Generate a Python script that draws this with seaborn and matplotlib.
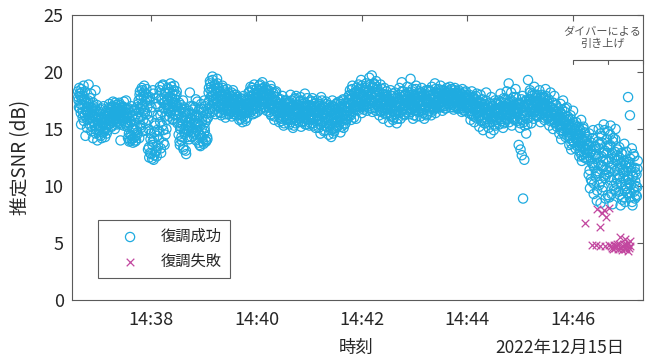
import numpy as np
import pandas as pd
import matplotlib
matplotlib.use("Agg")
import matplotlib.pyplot as plt
import matplotlib.dates as mdates
import seaborn as sns

# ---------------- data ----------------
date_str = "2022-12-15"
ok_start = "14:36:36.8"      # first successful demodulation
ok_step_s = 0.3558           # sampling interval (s)

# even samples
snr_ok_rows = [
    [18.3, 17.5, 18.6, 16.8, 17.9, 15.4, 18.2, 17.1, 16.5, 18.8, 17.6, 16.2, 14.4, 17.3, 16.9, 15.8],
    [16.5, 18.9, 17.2, 15.9, 16.4, 18.1, 15.2, 16.8, 14.2, 17.0, 15.6, 16.1, 18.4, 15.0, 16.6, 14.0],
    [15.3, 16.2, 14.5, 15.8, 16.7, 15.1, 14.2, 16.0, 15.5, 17.0, 14.8, 15.9, 16.4, 15.2, 14.6, 16.3],
    [16.1, 15.4, 17.2, 16.5, 15.7, 16.9, 15.2, 16.3, 17.4, 15.9, 16.6, 15.0, 16.8, 17.1, 15.6, 16.2],
    [16.4, 15.5, 17.3, 16.0, 14.0, 16.7, 15.8, 17.0, 16.2, 15.3, 16.9, 16.5, 15.9, 17.5, 16.1, 15.6],
    [14.2, 16.8, 13.9, 15.5, 14.5, 17.0, 14.1, 16.2, 13.8, 15.0, 16.6, 14.3, 15.8, 14.0, 16.9, 14.7],
    [16.0, 17.5, 14.2, 18.3, 16.8, 15.1, 18.6, 17.2, 14.8, 17.9, 18.8, 16.4, 15.5, 18.1, 17.6, 16.9],
    [13.2, 15.0, 12.5, 17.8, 14.1, 12.8, 16.5, 13.6, 18.4, 12.3, 14.7, 15.5, 13.0, 17.2, 12.6, 14.4],
    [13.5, 17.9, 14.8, 18.7, 16.2, 12.9, 17.5, 15.3, 18.9, 13.8, 16.8, 18.2, 14.5, 17.1, 15.8, 18.6],
    [17.2, 18.5, 16.1, 17.8, 19.0, 16.6, 17.4, 18.1, 15.8, 16.9, 18.8, 17.6, 16.3, 17.0, 18.3, 15.5],
    [16.2, 14.5, 17.3, 13.6, 15.2, 16.8, 14.0, 15.7, 17.5, 13.2, 14.8, 16.5, 15.0, 12.8, 16.0, 14.3],
    [15.3, 16.6, 14.1, 18.2, 15.9, 14.7, 16.3, 15.1, 17.0, 14.4, 15.8, 16.9, 15.5, 14.0, 16.2, 17.4],
    [15.5, 13.8, 16.7, 14.5, 13.5, 17.2, 15.0, 14.2, 16.1, 13.7, 17.5, 14.8, 15.6, 13.9, 16.4, 14.1],
    [16.0, 18.2, 17.5, 19.2, 16.8, 18.7, 17.9, 19.6, 16.5, 18.4, 17.2, 18.9, 16.3, 17.7, 18.5, 19.0],
    [17.4, 18.6, 16.5, 17.9, 18.2, 16.2, 17.1, 18.8, 17.6, 16.8, 18.4, 17.3, 16.0, 18.0, 17.7, 16.6],
    [17.0, 16.3, 18.1, 17.5, 16.7, 17.9, 16.1, 17.3, 18.4, 16.5, 17.7, 16.9, 17.2, 18.0, 16.4, 17.6],
    [16.8, 17.4, 15.8, 16.5, 17.7, 16.2, 17.1, 15.6, 16.9, 17.9, 16.4, 17.2, 15.9, 16.7, 17.5, 16.0],
    [17.3, 18.2, 16.6, 17.8, 18.7, 16.9, 17.5, 18.4, 16.3, 17.1, 18.9, 17.6, 16.8, 18.0, 17.4, 16.5],
    [18.1, 17.4, 18.8, 16.7, 17.9, 18.5, 17.2, 19.1, 18.3, 16.9, 17.6, 18.7, 17.3, 18.0, 16.6, 18.4],
    [17.6, 18.4, 16.5, 17.1, 18.8, 16.2, 17.8, 17.3, 16.8, 18.1, 15.8, 17.5, 16.6, 18.3, 17.0, 16.4],
    [16.9, 17.6, 15.6, 16.4, 17.2, 15.9, 16.8, 17.9, 16.1, 15.3, 17.0, 16.6, 17.5, 15.8, 16.3, 17.3],
    [16.5, 17.3, 15.4, 16.9, 18.0, 15.8, 16.2, 17.1, 15.1, 16.7, 17.6, 16.0, 15.5, 17.9, 16.4, 16.8],
    [16.7, 15.6, 17.4, 16.1, 17.8, 15.2, 16.9, 16.4, 17.2, 15.7, 16.3, 18.1, 16.0, 17.0, 15.4, 16.6],
    [16.4, 17.1, 15.3, 16.8, 17.5, 15.9, 16.2, 17.7, 15.5, 16.6, 17.0, 16.0, 15.1, 17.3, 16.5, 15.8],
    [16.2, 15.1, 17.2, 16.6, 14.6, 17.8, 15.7, 16.4, 17.0, 15.3, 16.9, 14.9, 16.1, 17.4, 15.5, 16.7],
    [16.0, 14.5, 17.1, 15.4, 16.6, 14.3, 15.8, 17.5, 15.0, 16.3, 14.8, 16.9, 15.6, 17.2, 15.2, 16.4],
    [16.5, 15.3, 17.4, 16.0, 14.7, 17.0, 15.7, 16.8, 17.6, 15.1, 16.2, 16.9, 15.5, 17.3, 16.1, 15.9],
    [16.8, 17.9, 16.2, 18.4, 17.1, 15.8, 17.6, 18.8, 16.5, 17.3, 18.1, 16.9, 17.7, 15.9, 18.3, 17.0],
    [17.6, 18.9, 16.7, 18.2, 17.3, 19.3, 16.4, 17.9, 18.6, 17.1, 16.9, 18.4, 17.5, 19.0, 16.6, 18.0],
    [18.3, 17.2, 19.5, 16.8, 18.0, 17.6, 19.7, 16.5, 18.7, 17.4, 18.9, 16.9, 17.9, 19.2, 17.1, 18.5],
    [17.0, 18.3, 16.2, 17.7, 18.9, 16.6, 17.3, 18.1, 15.9, 17.5, 18.6, 16.8, 17.1, 16.4, 18.0, 17.4],
    [16.7, 17.6, 15.6, 17.2, 18.4, 16.1, 16.9, 17.9, 15.8, 17.4, 16.5, 18.2, 16.3, 17.0, 15.5, 17.7],
    [17.3, 16.4, 18.6, 17.0, 15.9, 17.8, 19.1, 16.7, 17.5, 18.3, 16.2, 17.1, 18.0, 16.5, 17.6, 18.7],
    [17.1, 18.2, 16.3, 17.6, 19.4, 16.8, 17.4, 18.5, 15.9, 17.0, 18.0, 16.6, 17.7, 18.8, 16.1, 17.3],
    [17.4, 16.5, 18.3, 17.0, 16.1, 17.8, 18.6, 16.7, 17.2, 18.1, 15.9, 17.6, 16.9, 18.4, 17.3, 16.3],
    [17.5, 18.4, 16.6, 17.9, 17.2, 16.2, 18.7, 17.0, 18.1, 16.8, 17.6, 19.0, 16.4, 17.3, 18.2, 16.9],
    [17.8, 18.5, 16.9, 17.4, 18.8, 17.1, 18.2, 16.6, 17.6, 18.4, 17.0, 18.0, 16.8, 17.5, 18.6, 17.3],
    [17.9, 18.3, 17.2, 18.7, 16.9, 17.6, 18.5, 17.3, 18.1, 16.7, 17.8, 18.6, 17.0, 18.2, 17.5, 16.8],
    [17.6, 18.4, 16.8, 17.9, 18.1, 17.2, 16.5, 18.5, 17.4, 17.0, 18.2, 16.6, 17.7, 18.0, 16.9, 17.3],
    [17.2, 16.4, 18.0, 17.5, 15.8, 16.9, 18.3, 16.2, 17.3, 17.8, 15.6, 16.7, 17.6, 16.0, 18.1, 17.0],
    [16.5, 17.4, 15.2, 16.8, 18.0, 15.7, 16.2, 17.6, 14.9, 16.9, 17.2, 15.5, 16.4, 18.2, 15.9, 16.7],
    [16.3, 15.1, 17.3, 16.7, 14.6, 17.8, 15.6, 16.1, 17.0, 14.9, 16.5, 17.5, 15.3, 16.8, 15.8, 17.2],
    [16.6, 17.5, 15.4, 16.2, 18.1, 15.9, 17.0, 16.4, 15.1, 17.7, 16.8, 15.6, 17.3, 16.0, 18.3, 16.5],
    [16.9, 19.0, 15.6, 17.4, 16.3, 18.2, 15.3, 17.0, 16.6, 17.8, 15.9, 16.4, 18.5, 17.2, 15.7, 16.8],
    [16.5, 13.6, 17.3, 15.1, 13.2, 16.8, 12.7, 17.9, 8.9, 15.6, 12.3, 16.2, 17.5, 14.6, 16.9, 15.4],
    [19.3, 17.2, 16.0, 18.4, 17.6, 15.5, 16.8, 18.1, 17.0, 15.9, 18.7, 16.5, 17.4, 16.2, 18.0, 17.1],
    [17.3, 16.1, 18.4, 17.7, 15.6, 16.9, 18.0, 17.1, 16.4, 17.8, 15.8, 17.2, 18.5, 16.6, 17.5, 16.0],
    [16.4, 17.6, 15.3, 16.9, 18.2, 15.8, 16.2, 17.3, 15.0, 16.7, 17.9, 15.5, 16.5, 17.1, 15.2, 16.0],
    [15.9, 16.8, 14.6, 15.4, 17.2, 14.1, 16.3, 15.1, 17.5, 14.8, 15.7, 16.5, 14.3, 15.3, 16.9, 15.0],
    [14.9, 15.8, 13.6, 14.4, 16.2, 13.2, 15.3, 14.0, 16.6, 13.8, 15.0, 14.6, 13.3, 15.6, 14.2, 15.2],
    [13.9, 15.2, 12.6, 14.5, 13.1, 15.8, 12.2, 14.0, 13.5, 15.0, 12.8, 14.7, 13.3, 12.4, 14.3, 13.7],
    [13.2, 11.0, 14.6, 9.8, 12.5, 13.8, 10.4, 12.0, 14.9, 9.3, 11.6, 13.5, 10.8, 12.8, 8.7, 11.3],
    [12.6, 15.0, 10.1, 13.7, 8.5, 11.8, 14.4, 9.6, 12.2, 15.4, 10.9, 13.1, 8.9, 11.4, 14.1, 12.9],
    [14.8, 11.2, 9.0, 13.6, 15.3, 10.5, 12.4, 8.4, 14.2, 11.9, 9.7, 13.0, 15.0, 10.2, 12.7, 11.5],
    [12.3, 9.5, 13.4, 10.8, 8.3, 11.9, 10.1, 12.8, 9.0, 11.2, 13.7, 8.6, 10.5, 12.0, 9.8, 11.6],
    [17.8, 12.1, 10.3, 16.2, 9.4, 11.7, 13.3, 8.3, 10.9, 9.8, 12.6, 8.9, 11.2, 10.0, 9.1, 11.5],
]

# odd samples
snr_ok_rows_odd = [
    [17.8, 16.9, 18.1, 17.2, 16.4, 18.5, 17.6, 16.0, 17.9, 15.7, 17.0, 18.3, 16.6, 17.4, 15.1, 16.3],
    [17.5, 16.0, 15.4, 17.7, 16.9, 14.8, 16.2, 15.7, 17.3, 16.6, 15.3, 16.8, 14.6, 15.9, 17.1, 15.5],
    [15.7, 14.9, 16.5, 15.2, 14.4, 15.9, 16.8, 15.4, 14.7, 16.1, 15.6, 14.3, 15.0, 16.6, 15.8, 14.9],
    [16.4, 15.8, 16.9, 15.5, 16.7, 16.0, 15.3, 17.0, 16.2, 15.7, 16.5, 17.3, 15.9, 16.3, 15.4, 16.8],
    [16.6, 15.9, 16.2, 17.1, 15.4, 16.5, 16.9, 15.7, 16.0, 17.4, 16.3, 15.5, 16.8, 16.1, 15.2, 16.7],
    [15.3, 14.6, 16.4, 14.0, 15.7, 14.4, 16.1, 15.0, 14.2, 16.7, 15.4, 13.9, 14.9, 16.3, 14.5, 15.9],
    [17.2, 16.5, 18.0, 15.3, 17.7, 16.1, 18.4, 17.0, 15.8, 18.2, 16.7, 17.4, 14.9, 18.5, 16.3, 17.8],
    [15.8, 13.4, 17.5, 12.9, 14.6, 16.9, 12.4, 13.9, 18.1, 14.2, 12.7, 15.3, 17.7, 13.1, 14.9, 16.2],
    [17.0, 14.1, 18.4, 15.6, 13.3, 17.7, 16.5, 18.8, 14.9, 17.3, 13.6, 16.1, 18.1, 15.0, 17.6, 16.8],
    [17.5, 16.8, 18.2, 17.0, 16.4, 18.7, 17.7, 15.9, 17.3, 18.4, 16.6, 17.9, 16.2, 18.0, 17.1, 16.9],
    [15.6, 16.6, 13.9, 15.0, 17.1, 14.3, 16.0, 15.4, 13.4, 16.9, 14.6, 15.8, 13.1, 16.3, 14.9, 15.2],
    [15.6, 14.8, 16.4, 15.2, 17.0, 14.3, 15.9, 16.7, 15.0, 14.6, 16.1, 15.5, 17.6, 14.9, 16.0, 15.4],
    [14.8, 16.2, 13.6, 15.3, 16.8, 14.4, 15.7, 13.9, 16.5, 14.6, 15.1, 17.0, 14.0, 15.8, 14.3, 16.0],
    [17.3, 18.6, 16.4, 19.0, 17.8, 18.3, 16.9, 19.3, 18.0, 17.4, 18.8, 16.7, 18.1, 17.6, 19.4, 17.0],
    [17.8, 16.9, 18.3, 17.2, 16.4, 18.0, 17.5, 18.6, 16.7, 17.9, 17.0, 18.2, 16.3, 17.4, 18.5, 17.1],
    [17.4, 16.8, 17.9, 16.5, 17.1, 18.2, 16.9, 17.6, 16.3, 17.3, 18.0, 16.7, 17.5, 16.2, 17.8, 17.0],
    [17.0, 16.3, 17.3, 16.7, 15.9, 17.6, 16.5, 17.1, 16.1, 16.8, 17.5, 16.4, 15.7, 17.2, 16.6, 16.9],
    [17.6, 16.9, 18.3, 17.2, 16.5, 17.9, 18.6, 17.0, 16.7, 18.1, 17.4, 16.4, 17.8, 18.5, 17.1, 17.7],
    [17.8, 18.4, 17.0, 18.9, 17.5, 16.8, 18.2, 17.7, 18.6, 17.2, 18.0, 16.9, 18.5, 17.4, 18.1, 17.6],
    [17.4, 16.9, 18.0, 17.2, 16.3, 18.5, 17.6, 16.7, 17.9, 17.0, 16.1, 18.2, 17.5, 16.5, 17.8, 16.8],
    [16.6, 17.2, 16.0, 16.9, 17.6, 15.7, 16.4, 17.0, 16.7, 15.5, 17.3, 16.2, 16.8, 17.5, 15.9, 16.5],
    [16.7, 16.1, 17.2, 16.4, 15.6, 17.5, 16.9, 16.0, 17.0, 15.3, 16.6, 17.7, 16.3, 15.8, 17.1, 16.5],
    [16.4, 17.1, 15.9, 16.8, 17.5, 16.2, 15.6, 17.0, 16.6, 16.0, 17.3, 15.4, 16.9, 16.3, 17.7, 16.5],
    [16.6, 15.8, 17.0, 16.2, 15.5, 17.4, 16.8, 16.0, 15.3, 16.9, 17.2, 16.4, 15.7, 16.7, 17.5, 16.1],
    [16.5, 15.8, 17.0, 15.4, 16.8, 16.1, 17.5, 15.6, 16.3, 14.8, 16.9, 15.9, 17.2, 16.4, 15.2, 16.6],
    [15.8, 16.5, 15.2, 16.9, 14.9, 16.2, 15.5, 17.0, 14.6, 16.4, 15.9, 16.7, 15.1, 16.0, 17.3, 15.6],
    [16.1, 16.8, 15.6, 17.2, 16.4, 15.2, 16.9, 15.9, 17.5, 16.3, 15.4, 16.6, 17.0, 15.8, 16.5, 17.3],
    [17.3, 16.6, 18.0, 17.6, 16.2, 17.9, 18.5, 16.9, 17.4, 16.0, 18.2, 17.1, 16.7, 18.6, 17.5, 17.0],
    [17.8, 17.2, 18.5, 16.9, 18.1, 17.5, 18.8, 17.0, 17.9, 16.7, 18.3, 17.4, 18.6, 17.1, 17.7, 18.2],
    [17.8, 18.4, 17.0, 18.9, 17.5, 18.1, 16.8, 18.6, 17.3, 19.0, 17.7, 18.2, 16.6, 17.9, 18.7, 17.2],
    [17.5, 16.9, 18.2, 17.2, 16.5, 17.8, 18.5, 16.7, 17.6, 17.1, 18.0, 16.3, 17.4, 18.3, 16.8, 17.7],
    [17.0, 16.4, 17.5, 16.8, 17.9, 16.2, 17.3, 16.6, 18.1, 16.0, 17.1, 17.7, 16.5, 16.9, 17.4, 15.9],
    [17.4, 16.9, 18.0, 17.2, 16.5, 17.6, 18.3, 16.8, 17.0, 17.9, 16.3, 17.5, 18.1, 16.7, 17.3, 17.8],
    [17.4, 16.8, 18.0, 17.1, 16.5, 17.7, 18.3, 16.9, 17.5, 16.2, 17.9, 17.0, 18.5, 16.6, 17.3, 17.8],
    [17.2, 17.8, 16.8, 17.5, 18.2, 16.6, 17.1, 17.9, 16.4, 17.4, 18.0, 16.9, 17.6, 16.2, 17.3, 18.4],
    [17.3, 17.9, 16.8, 17.6, 18.3, 16.5, 17.2, 18.0, 17.0, 16.7, 17.8, 18.5, 17.1, 16.9, 17.5, 18.1],
    [17.6, 18.1, 17.2, 17.9, 16.9, 18.4, 17.4, 18.0, 17.0, 17.7, 18.3, 16.8, 17.5, 18.2, 17.3, 17.8],
    [17.7, 18.2, 17.4, 17.9, 18.5, 17.1, 17.6, 18.0, 16.9, 17.8, 18.4, 17.3, 17.5, 18.1, 17.0, 17.7],
    [17.4, 17.9, 17.0, 18.2, 17.6, 16.8, 17.3, 18.0, 17.5, 16.6, 17.8, 17.2, 18.3, 17.1, 16.9, 17.7],
    [16.9, 17.5, 16.6, 17.8, 17.1, 16.3, 17.4, 16.8, 17.7, 16.1, 17.2, 16.7, 17.9, 16.5, 17.0, 17.3],
    [16.4, 17.0, 16.1, 16.8, 17.3, 15.8, 16.6, 17.1, 16.0, 16.7, 15.5, 16.9, 17.5, 16.3, 15.9, 16.5],
    [16.2, 16.9, 15.6, 16.5, 17.2, 15.9, 16.4, 16.0, 17.0, 15.4, 16.6, 16.1, 17.3, 15.8, 16.7, 16.3],
    [16.5, 17.1, 16.0, 16.8, 17.4, 15.7, 16.3, 17.0, 16.6, 15.5, 16.9, 17.6, 16.2, 16.7, 15.9, 17.2],
    [16.8, 17.3, 16.2, 17.6, 16.5, 17.0, 16.0, 17.4, 16.7, 15.8, 17.1, 16.4, 17.8, 16.9, 16.3, 17.2],
    [16.7, 17.2, 16.0, 15.5, 16.9, 17.6, 15.8, 16.4, 17.0, 16.2, 15.3, 16.8, 17.4, 16.5, 15.9, 17.1],
    [17.0, 17.6, 16.5, 18.2, 17.3, 16.8, 17.9, 16.3, 17.5, 16.9, 18.0, 17.2, 16.6, 17.7, 16.1, 17.4],
    [17.1, 16.6, 17.5, 16.9, 17.8, 16.3, 17.2, 16.7, 17.6, 16.0, 17.3, 16.8, 17.9, 16.4, 17.0, 16.5],
    [16.6, 16.1, 17.0, 15.7, 16.4, 16.9, 15.9, 16.7, 17.3, 16.2, 15.6, 16.5, 17.1, 16.0, 16.3, 15.8],
    [15.7, 16.2, 15.2, 16.5, 14.9, 15.9, 16.7, 15.4, 14.6, 16.0, 15.5, 16.8, 15.1, 15.8, 14.4, 16.1],
    [14.7, 15.4, 14.2, 15.9, 14.9, 13.7, 15.1, 14.4, 15.6, 13.9, 14.8, 15.3, 14.1, 15.0, 13.5, 14.6],
    [13.6, 14.4, 13.0, 14.9, 13.8, 12.7, 14.2, 13.4, 15.2, 12.5, 13.9, 14.6, 13.2, 14.1, 12.9, 13.5],
    [12.3, 13.6, 11.4, 12.9, 10.6, 13.1, 12.0, 14.2, 11.8, 10.2, 12.7, 13.4, 11.1, 12.4, 9.6, 13.9],
    [12.0, 13.3, 11.1, 14.6, 10.4, 12.6, 13.8, 9.9, 11.7, 12.9, 14.9, 10.7, 12.3, 11.0, 13.5, 9.2],
    [12.1, 13.4, 10.8, 14.5, 11.6, 9.3, 12.9, 13.9, 10.0, 12.5, 11.3, 14.1, 9.6, 12.2, 10.6, 13.2],
    [11.0, 12.5, 9.2, 11.6, 10.3, 12.9, 8.8, 11.4, 10.7, 12.2, 9.6, 11.8, 10.0, 13.0, 9.4, 10.9],
    [10.6, 11.9, 9.0, 12.4, 10.1, 11.3, 8.6, 10.8, 12.8, 9.5, 11.6, 10.4, 9.2, 11.0, 9.9, 12.2],
]

fail_time = ["14:46:13.7", "14:46:30.7", "14:46:27.3", "14:46:33.0", "14:46:37.6",
             "14:46:41.0", "14:46:35.3", "14:46:21.6", "14:46:26.2", "14:46:30.7",
             "14:46:36.4", "14:46:41.0", "14:46:44.4", "14:46:46.7", "14:46:48.9",
             "14:46:51.2", "14:46:52.3", "14:46:53.5", "14:46:54.6", "14:46:55.8",
             "14:46:56.9", "14:46:58.0", "14:46:59.2", "14:46:59.2", "14:47:00.3",
             "14:47:01.5", "14:47:02.6", "14:47:02.6", "14:47:03.7", "14:47:04.9",
             "14:47:04.9", "14:46:50.1", "14:46:43.2", "14:46:45.5", "14:46:47.8"]
fail_snr = [6.75, 6.4, 8.0, 7.6, 7.3,
            8.1, 7.9, 4.8, 4.8, 4.7,
            4.75, 4.8, 4.6, 4.8, 4.7,
            4.5, 4.9, 5.5, 4.6, 4.4,
            4.7, 4.9, 5.35, 4.5, 4.6,
            4.8, 4.3, 5.0, 4.6, 4.75,
            5.2, 4.9, 4.7, 4.5, 4.6]

x_range = ("14:36:30", "14:47:20")
x_tick_labels = ["14:38", "14:40", "14:42", "14:44", "14:46"]
y_ticks = [0, 5, 10, 15, 20, 25]
legend_labels = ["復調成功", "復調失敗"]
y_label = "推定SNR (dB)"
x_label = "時刻"
date_label = "2022年12月15日"
note_text = "ダイバーによる\n引き上げ"
note_span = ("14:46:00", "14:47:20")

# ---------------- build frames ----------------
even = np.array([v for row in snr_ok_rows for v in row])
odd = np.array([v for row in snr_ok_rows_odd for v in row])
snr_ok = np.empty(even.size + odd.size)
snr_ok[0::2] = even
snr_ok[1::2] = odd
t0 = pd.Timestamp(f"{date_str} {ok_start}")
t_ok = t0 + pd.to_timedelta(np.arange(len(snr_ok)) * ok_step_s, unit="s")
df_ok = pd.DataFrame({"time": t_ok, "snr": snr_ok})
df_fail = pd.DataFrame({"time": pd.to_datetime([f"{date_str} {t}" for t in fail_time]),
                        "snr": fail_snr})

# ---------------- style ----------------
sns.set_style("white")
plt.rcParams["font.family"] = ["Noto Sans CJK JP", "DejaVu Sans"]
text_c = "#262626"
axis_c = "#5a5a5a"
c_ok = "#1FABE0"
c_fail = "#C2479F"

fig = plt.figure(figsize=(6.53, 3.59), dpi=100)
ax = fig.add_axes([72 / 653, 1 - 300 / 359, (643 - 72) / 653, (300 - 15) / 359])

sns.scatterplot(data=df_ok, x="time", y="snr", ax=ax, marker="o", s=44,
                facecolor="none", edgecolor=c_ok, linewidth=0.9,
                label=legend_labels[0], zorder=2)
sns.scatterplot(data=df_fail, x="time", y="snr", ax=ax, marker="x", s=30,
                color=c_fail, linewidth=0.9, label=legend_labels[1], zorder=3)

ax.set_xlim(pd.Timestamp(f"{date_str} {x_range[0]}"), pd.Timestamp(f"{date_str} {x_range[1]}"))
ax.set_ylim(y_ticks[0], y_ticks[-1])
ax.set_yticks(y_ticks)
ax.set_xticks([pd.Timestamp(f"{date_str} {t}") for t in x_tick_labels])
ax.xaxis.set_major_formatter(mdates.DateFormatter("%H:%M"))

for sp in ax.spines.values():
    sp.set_visible(True)
    sp.set_color(axis_c)
    sp.set_linewidth(0.8)
ax.tick_params(axis="both", direction="in", length=4, width=0.8, color=axis_c,
               labelcolor=text_c, labelsize=13, top=True, right=True,
               labeltop=False, labelright=False, pad=6)
ax.tick_params(axis="x", pad=8)

ax.set_xlabel("")
ax.set_ylabel(y_label, fontsize=13.5, color=text_c, labelpad=9)
fig.text(356 / 653, 1 - 348 / 359, x_label, ha="center", va="center", fontsize=12.5, color=text_c)
fig.text(624 / 653, 1 - 348 / 359, date_label, ha="right", va="center", fontsize=12.5, color=text_c)

# annotation bracket
ns0 = mdates.date2num(pd.Timestamp(f"{date_str} {note_span[0]}"))
ns1 = mdates.date2num(pd.Timestamp(f"{date_str} {note_span[1]}"))
nm = (ns0 + ns1) / 2
trans = ax.get_xaxis_transform()
yb = (300 - 60) / 285
yd = (300 - 64) / 285
ax.plot([ns0, ns0, ns1, ns1], [yd, yb, yb, yd], transform=trans, color=axis_c,
        lw=0.8, clip_on=False)
ax.plot([nm, nm], [yb, yd], transform=trans, color=axis_c, lw=0.8, clip_on=False)
ax.text(nm - (ns1 - ns0) * 0.08, (300 - 38) / 285, note_text, transform=trans,
        ha="center", va="center", fontsize=8, color="#555555", linespacing=1.2)

leg = ax.legend(loc="lower left", bbox_to_anchor=(0.0455, 0.077), borderaxespad=0,
                frameon=True, fancybox=False, fontsize=11, handletextpad=0.45,
                borderpad=0.55, labelspacing=0.5, handlelength=3.1)
leg.get_frame().set_edgecolor("#333333")
leg.get_frame().set_linewidth(0.8)
for t in leg.get_texts():
    t.set_color(text_c)

fig.savefig("out.png", dpi=100)
